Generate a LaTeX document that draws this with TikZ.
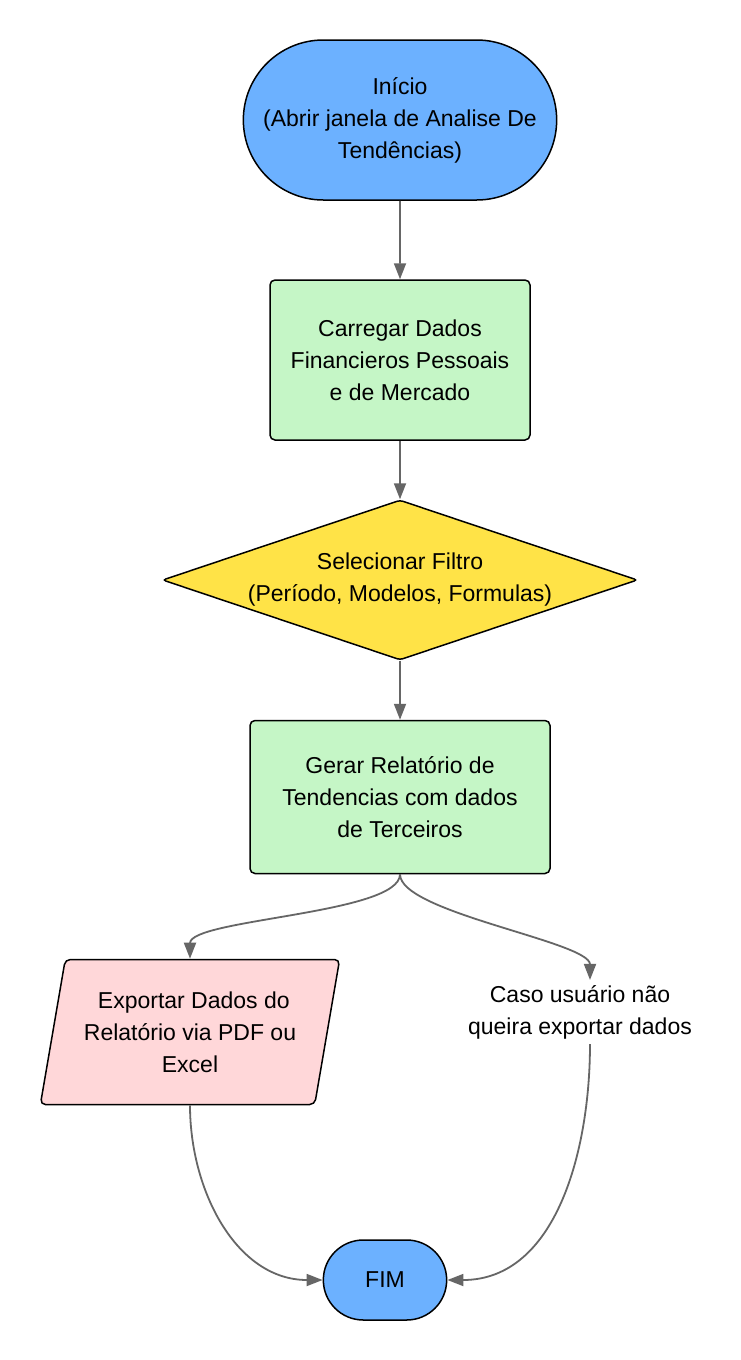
\documentclass[tikz,border=0pt]{standalone}
\usepackage{fontspec}
\setmainfont{Liberation Sans}
\usetikzlibrary{shapes,shapes.geometric,shapes.misc,arrows.meta,calc}
\definecolor{termblue}{HTML}{6CB1FF}
\definecolor{procgreen}{HTML}{C5F6C6}
\definecolor{filtroyellow}{HTML}{FFE347}
\definecolor{exportpink}{HTML}{FFD7D9}
\definecolor{linkgray}{HTML}{666666}
\begin{document}
\begin{tikzpicture}[x=1pt,y=-1pt,
    every node/.style={font=\fontsize{23}{32}\selectfont, align=center, text=black},
    term/.style={rounded rectangle, draw=black, line width=1.5pt, fill=termblue},
    procbox/.style={rectangle, rounded corners=5pt, draw=black, line width=1.5pt, fill=procgreen},
    filtro/.style={diamond, aspect=2.97, inner sep=0pt, rounded corners=3pt, draw=black, line width=1.5pt, fill=filtroyellow},
    exportbox/.style={trapezium, trapezium left angle=76, trapezium right angle=104, trapezium stretches=true, rounded corners=5pt, draw=black, line width=1.5pt, fill=exportpink},
    lbl/.style={inner sep=5pt},
    link/.style={draw=linkgray, line width=1.8pt, -{Triangle[length=16pt,width=12pt]}}]
      \useasboundingbox (0,0) rectangle (740,1360);
      \fill[white] (0,0) rectangle (740,1360);

      % nodes
      \node[term, minimum width=320pt, minimum height=160pt] (inicio) at (400,120) {Início\\(Abrir janela de Analise De\\Tendências)};
      \node[procbox, minimum width=260pt, minimum height=160pt] (carregar) at (400,360) {Carregar Dados\\Financieros Pessoais\\e de Mercado};
      \node[filtro, minimum width=475pt, minimum height=160pt] (filtro) at (400,580) {Selecionar Filtro\\(Período, Modelos, Formulas)};
      \node[procbox, minimum width=300pt, minimum height=153pt] (gerar) at (400,797) {Gerar Relatório de\\Tendencias com dados\\de Terceiros};
      \node[exportbox, minimum width=300pt, minimum height=145pt] (exportar) at (190,1032) {\,\,Exportar Dados do\\Relatório via PDF ou\\Excel};
      \node[lbl] (naoexporta) at (580,1012) {Caso usuário não\\queira exportar dados};
      \node[term, minimum width=130pt, minimum height=80pt] (fim) at (385,1280) {FIM};

      % connectors
      \draw[link] (inicio) -- (carregar);
      \draw[link] (carregar) -- (filtro);
      \draw[link] (filtro) -- (gerar);
      \draw[link] (gerar.south) to[out=-90,in=90,looseness=0.45] (exportar.center |- exportar.north);
      \draw[link] (gerar.south) to[out=-90,in=90,looseness=0.45] ([xshift=10pt]naoexporta.north);
      \draw[link] (exportar.center |- exportar.south) to[out=-90,in=180] (fim.west);
      \draw[link] ([xshift=10pt]naoexporta.south) to[out=-90,in=0] (fim.east);
\end{tikzpicture}
\end{document}
